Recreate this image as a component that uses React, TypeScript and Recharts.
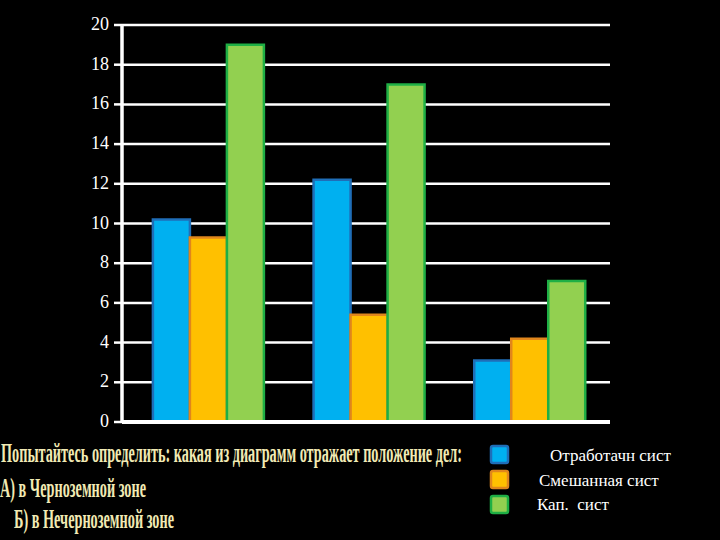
import { BarChart, Bar, XAxis, YAxis, CartesianGrid, Legend, ReferenceLine } from 'recharts';

// groups along the x axis (no labels shown in the original)
const categories = ['Группа 1', 'Группа 2', 'Группа 3'];
const seriesNames = ['Отработачн сист', 'Смешанная сист', 'Кап.  сист'];
const workedOut = [10.2, 12.2, 3.1];
const mixed = [9.3, 5.4, 4.2];
const drip = [19.0, 17.0, 7.1];
const yTicks = [0, 2, 4, 6, 8, 10, 12, 14, 16, 18, 20];

const questionLines = [
  'Попытайтесь определить: какая из диаграмм отражает положение дел:',
  'А) в Черноземной зоне',
  'Б) в Нечерноземной зоне',
];

const FILLS = ['#00B0F0', '#FFC000', '#92D050'];
const STROKES = ['#1F6EB8', '#E0861C', '#1FAF45'];
const KEYS = ['worked', 'mixed', 'drip'];

const data = categories.map((name, i) => ({
  name,
  worked: workedOut[i],
  mixed: mixed[i],
  drip: drip[i],
}));

const serif = "'Liberation Serif', 'Times New Roman', serif";

function YTick(props: any) {
  const { x, y, payload } = props;
  return (
    <text
      x={x}
      y={y}
      dy={5}
      textAnchor="end"
      fill="#fff"
      fontSize={18}
      fontFamily={serif}
    >
      {payload.value}
    </text>
  );
}

function LegendBox() {
  const textX = [67, 56, 54];
  return (
    <svg width={236} height={90}>
      {seriesNames.map((name, i) => (
        <g key={name}>
          <rect
            x={8}
            y={7 + i * 25}
            width={17}
            height={17}
            rx={2}
            fill={FILLS[i]}
            stroke={STROKES[i]}
            strokeWidth={2.5}
          />
          <text
            x={textX[i]}
            y={22 + i * 24.5}
            fill="#fff"
            fontSize={17}
            fontFamily={serif}
            style={{ whiteSpace: 'pre' }}
          >
            {name}
          </text>
        </g>
      ))}
    </svg>
  );
}

// condensed bold caption lines: [x, baseline, target width]
const captionBoxes = [
  [1, 462, 461],
  [0, 497, 146],
  [14, 528, 160],
];

export default function App() {
  return (
    <div
      style={{
        position: 'absolute',
        left: 0,
        top: 0,
        width: 720,
        height: 540,
        background: '#000',
        overflow: 'hidden',
      }}
    >
      <BarChart
        width={720}
        height={540}
        data={data}
        margin={{ top: 25, right: 110, bottom: 118, left: 0 }}
        barGap={0}
        barCategoryGap="15.5%"
      >
        <CartesianGrid vertical={false} stroke="#fff" strokeWidth={2.5} />
        <XAxis dataKey="name" hide padding={{ left: 6, right: 0 }} />
        <YAxis
          width={122}
          domain={[0, 20]}
          ticks={yTicks}
          interval={0}
          tickSize={8}
          tickMargin={5}
          tickLine={{ stroke: '#fff', strokeWidth: 2.5 }}
          axisLine={{ stroke: '#fff', strokeWidth: 3.5 }}
          tick={<YTick />}
        />
        <ReferenceLine y={0} stroke="#fff" strokeWidth={4} />
        <Legend
          layout="vertical"
          align="center"
          verticalAlign="middle"
          content={() => <LegendBox />}
          wrapperStyle={{ position: 'absolute', left: 483, top: 439, width: 236, height: 90 }}
        />
        {KEYS.map((k, i) => (
          <Bar
            key={k}
            dataKey={k}
            name={seriesNames[i]}
            fill={FILLS[i]}
            stroke={STROKES[i]}
            strokeWidth={2.5}
            isAnimationActive={false}
          />
        ))}
      </BarChart>
      <svg
        width={720}
        height={540}
        style={{ position: 'absolute', left: 0, top: 0, pointerEvents: 'none' }}
      >
        {questionLines.map((line, i) => {
          const [x, y, w] = captionBoxes[i];
          const sx = 0.53;
          return (
            <text
              key={line}
              transform={`translate(${x},${y}) scale(${sx},1)`}
              x={0}
              y={0}
              textLength={w / sx}
              lengthAdjust="spacingAndGlyphs"
              fill="#F1EAB4"
              fontSize={27}
              fontWeight="bold"
              fontFamily={serif}
            >
              {line}
            </text>
          );
        })}
      </svg>
    </div>
  );
}
